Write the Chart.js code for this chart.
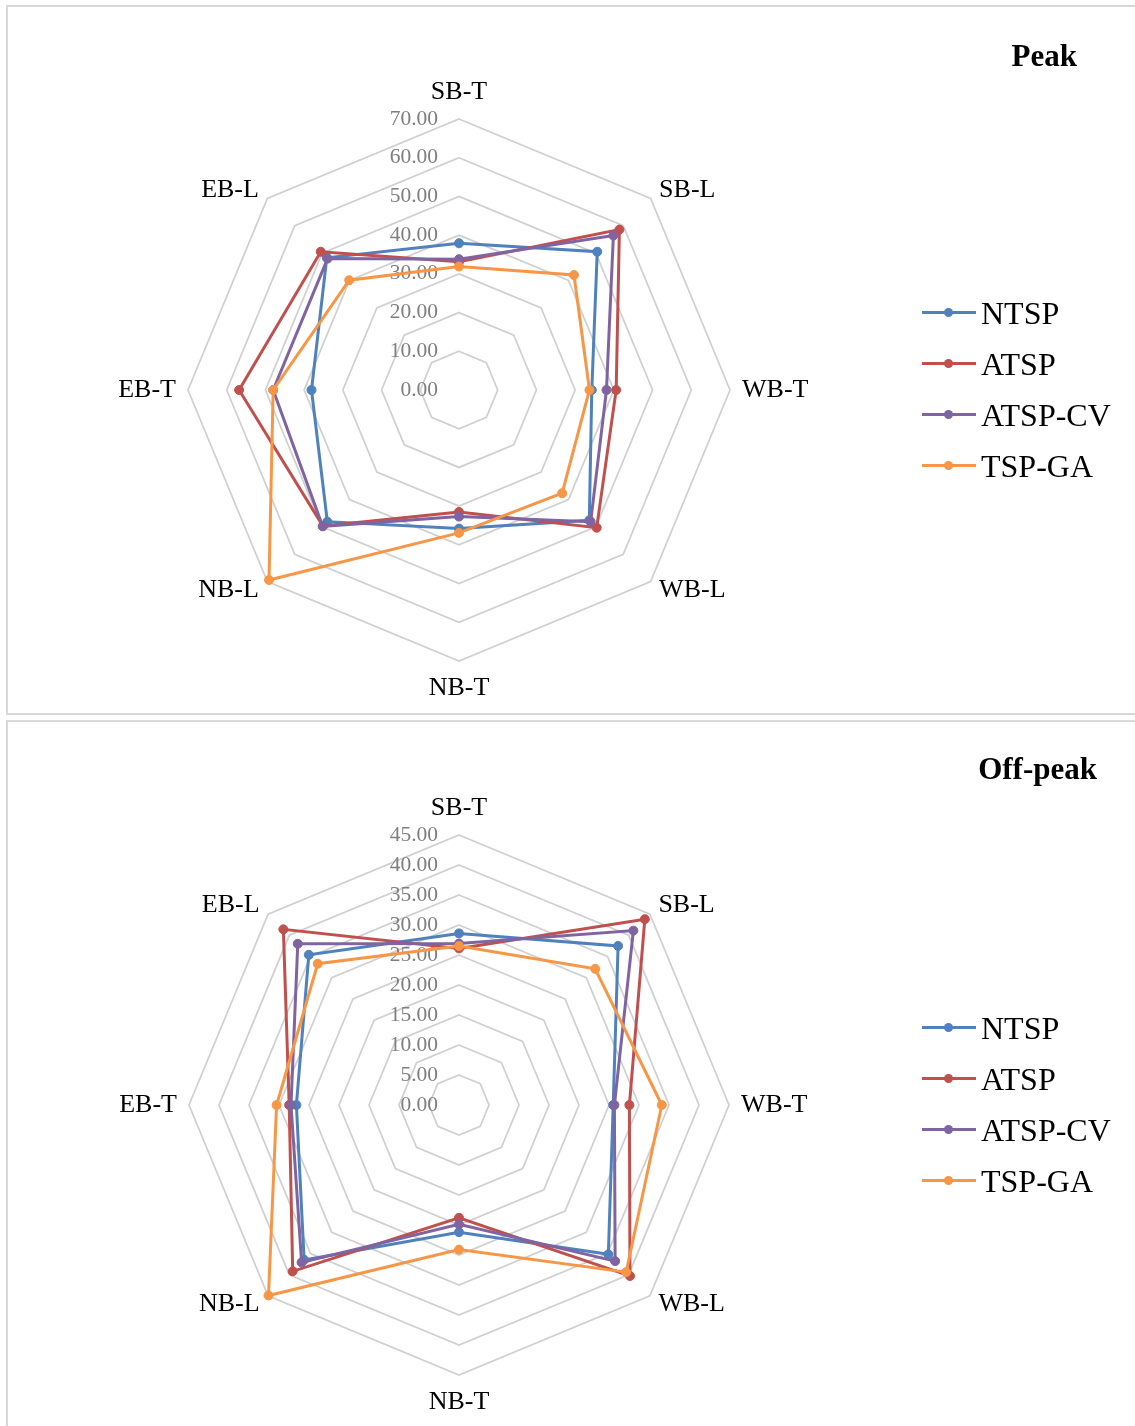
<!DOCTYPE html>
<html>
<head>
<meta charset="utf-8">
<script src="https://cdn.jsdelivr.net/npm/chart.js@4.4.1/dist/chart.umd.min.js"></script>
<style>
  body { margin: 0; background: #fff; font-family: "Liberation Serif", "Times New Roman", serif; }
  .page { position: relative; width: 1135px; height: 1426px; overflow: hidden; }
  .panel { position: absolute; left: 0; width: 1135px; height: 713px; }
  .frame { position: absolute; left: 6px; top: 5px; width: 1140px; height: 706px; border: 2px solid #d9d9d9; }
  .panel canvas { position: absolute; left: 0; top: 0; }
  .title { position: absolute; font-weight: bold; font-size: 31px; line-height: 31px; text-align: right; }
  .legend { position: absolute; left: 922px; top: 287px; }
  .item { display: flex; align-items: center; height: 51px; font-size: 32px; line-height: 1; color: #000; }
  .key { position: relative; width: 54px; height: 3px; margin-right: 5px; }
  .key i { position: absolute; left: 22px; top: -3px; width: 9px; height: 9px; border-radius: 50%; }
</style>
</head>
<body>
<div class="page">
  <div class="panel" style="top:0">
    <div class="frame"></div>
    <canvas id="peakChart" width="1135" height="713"></canvas>
    <div class="title" style="right:58px; top:40px">Peak</div>
    <div class="legend" id="peakLegend"></div>
  </div>
  <div class="panel" style="top:715px">
    <div class="frame"></div>
    <canvas id="offPeakChart" width="1135" height="713"></canvas>
    <div class="title" style="right:38px; top:38px">Off-peak</div>
    <div class="legend" id="offPeakLegend"></div>
  </div>
</div>
<script>
const approaches = ["SB-T", "SB-L", "WB-T", "WB-L", "NB-T", "NB-L", "EB-T", "EB-L"];
const seriesNames = ["NTSP", "ATSP", "ATSP-CV", "TSP-GA"];
const seriesColors = ["#4f81bd", "#c0504d", "#8064a2", "#f79646"];

// peak period
const peakNTSP = [37.9, 50.5, 34.3, 47.6, 35.8, 48.1, 38.1, 48.3];
const peakATSP = [33.1, 58.6, 40.6, 50.3, 31.5, 49.7, 56.8, 50.5];
const peakATSPCV = [33.8, 56.4, 38.1, 48.1, 32.7, 49.8, 48.0, 48.0];
const peakTSPGA = [31.9, 42.0, 33.7, 37.7, 36.9, 69.4, 48.0, 40.1];
const peakMax = 70;
const peakStep = 10;

// off-peak period
const offNTSP = [28.6, 37.5, 25.7, 35.2, 21.2, 36.5, 27.1, 35.4];
const offATSP = [26.1, 43.8, 28.4, 40.3, 18.8, 39.2, 28.3, 41.4];
const offATSPCV = [26.9, 41.1, 25.9, 36.8, 19.9, 37.1, 28.0, 38.0];
const offTSPGA = [26.5, 32.1, 33.8, 39.4, 24.1, 44.9, 30.4, 33.3];
const offMax = 45;
const offStep = 5;

// tick values and point labels drawn in Excel style
const radarText = {
  id: "radarText",
  beforeDatasetsDraw(chart) {
    const r = chart.scales.r;
    const ctx = chart.ctx;
    ctx.save();
    ctx.font = '21.5px "Liberation Serif"';
    ctx.fillStyle = "#7f7f7f";
    ctx.textAlign = "right";
    ctx.textBaseline = "middle";
    r.ticks.forEach((t) => {
      ctx.fillText(t.value.toFixed(2), r.xCenter - 21, r.yCenter - r.getDistanceFromCenterForValue(t.value));
    });
    ctx.font = '26px "Liberation Serif"';
    ctx.fillStyle = "#000";
    chart.data.labels.forEach((label, i) => {
      const p = r.getPointPosition(i, r.drawingArea + 12);
      let y = p.y;
      if (i === 0) { ctx.textAlign = "center"; y -= 15; }
      else if (i === 4) { ctx.textAlign = "center"; y += 15; }
      else ctx.textAlign = i < 4 ? "left" : "right";
      ctx.fillText(label, p.x, y);
    });
    ctx.restore();
  },
};

function buildLegend(id) {
  const el = document.getElementById(id);
  seriesNames.forEach((name, i) => {
    const row = document.createElement("div");
    row.className = "item";
    row.innerHTML = '<span class="key" style="background:' + seriesColors[i] + '"><i style="background:' +
      seriesColors[i] + '"></i></span>' + name;
    el.appendChild(row);
  });
}

function makeRadar(id, values, max, step, pad) {
  new Chart(document.getElementById(id), {
    type: "radar",
    data: {
      labels: approaches,
      datasets: values.map((data, i) => ({
        label: seriesNames[i],
        data: data,
        borderColor: seriesColors[i],
        backgroundColor: seriesColors[i],
        pointBackgroundColor: seriesColors[i],
        pointBorderColor: seriesColors[i],
        pointBorderWidth: 1,
        pointRadius: 4.5,
        borderWidth: 3,
        fill: false,
        order: values.length - 1 - i,
      })),
    },
    options: {
      responsive: false,
      animation: false,
      layout: { padding: pad },
      plugins: { legend: { display: false }, tooltip: { enabled: false } },
      scales: {
        r: {
          min: 0,
          max: max,
          angleLines: { display: false },
          grid: { color: "#d0d0d0", lineWidth: 1.75 },
          pointLabels: { display: false },
          ticks: { display: false, stepSize: step, showLabelBackdrop: false },
        },
      },
    },
    plugins: [radarText],
  });
}

makeRadar("peakChart", [peakNTSP, peakATSP, peakATSPCV, peakTSPGA], peakMax, peakStep,
  { left: 188, top: 119, right: 405, bottom: 52 });
makeRadar("offPeakChart", [offNTSP, offATSP, offATSPCV, offTSPGA], offMax, offStep,
  { left: 189, top: 120, right: 406, bottom: 53 });
buildLegend("peakLegend");
buildLegend("offPeakLegend");
</script>
</body>
</html>
